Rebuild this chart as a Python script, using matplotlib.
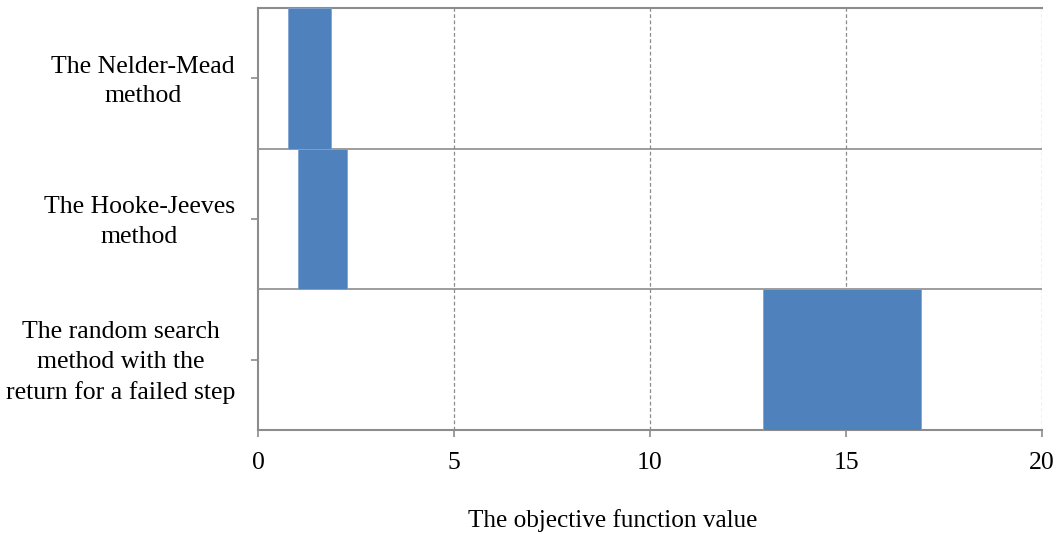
import matplotlib
matplotlib.use("Agg")
import matplotlib.pyplot as plt
import matplotlib.transforms as mtransforms

categories = ["The Nelder-Mead\nmethod", "The Hooke-Jeeves\nmethod",
              "The random search\nmethod with the\nreturn for a failed step"]
starts = [0.77, 1.03, 12.89]
ends = [1.86, 2.26, 16.91]
xticks = [0, 5, 10, 15, 20]

plt.rcParams['font.family'] = ['Liberation Serif', 'DejaVu Serif']

fig = plt.figure(figsize=(10.58, 5.34), dpi=100)
ax = fig.add_axes([258/1058, 1 - 430/534, (1042-258)/1058, (430-8)/534])

grey = '#8c8c8c'
n = len(categories)
ypos = [n - 1 - i + 0.5 for i in range(n)]
widths = [e - s for s, e in zip(starts, ends)]
ax.barh(ypos, widths, left=starts, height=1.0, color='#4F81BD',
        edgecolor='#7FA3D0', linewidth=0.6, zorder=3)

ax.set_xlim(0, 20)
ax.set_ylim(0, n)
ax.set_xticks(xticks)
ax.set_xticklabels([str(t) for t in xticks], fontsize=18.5)
ax.set_yticks(ypos)
ax.set_yticklabels(categories, fontsize=18.5, ha='right', va='center',
                   multialignment='center', linespacing=1.45)
ax.tick_params(axis='y', pad=11.5, length=5, color=grey, width=1.2)
ax.tick_params(axis='x', length=5, color=grey, width=1.2, pad=11)

offset = mtransforms.ScaledTranslation(0, -3 / 100, fig.dpi_scale_trans)
for lbl in ax.get_yticklabels():
    lbl.set_transform(lbl.get_transform() + offset)

for x in xticks[1:]:
    ax.axvline(x, color=grey, linestyle=(0, (3, 2)), linewidth=0.9, zorder=1)
for y in range(1, n):
    ax.axhline(y, color=grey, linewidth=1.2, zorder=2)

for side in ['left', 'bottom', 'top']:
    ax.spines[side].set_color(grey)
    ax.spines[side].set_linewidth(1.5)
ax.spines['right'].set_visible(False)

ax.set_xlabel("The objective function value", fontsize=18.2, labelpad=25,
              x=(613 - 258) / 784)

fig.savefig("out.png", dpi=100)
